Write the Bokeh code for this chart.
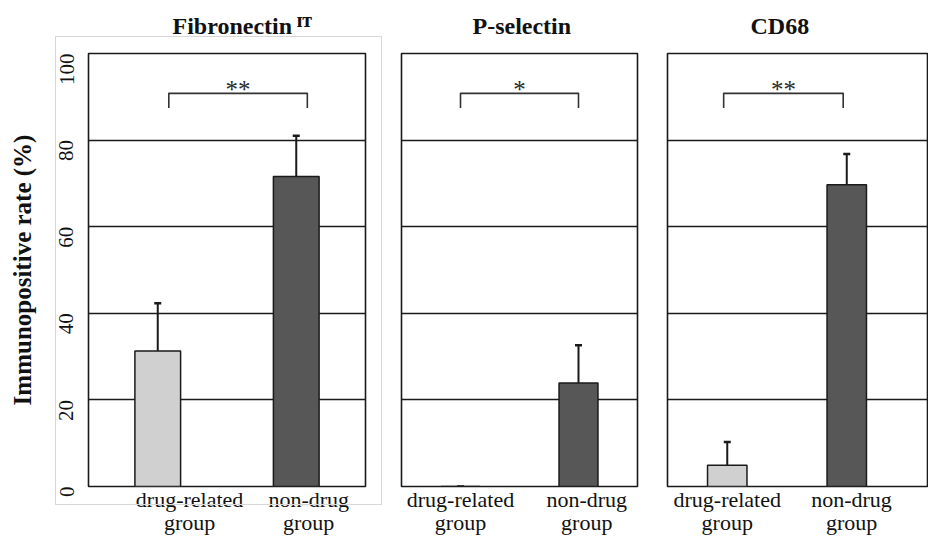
import math
from bokeh.plotting import figure
from bokeh.layouts import row
from bokeh.models import Range1d, FixedTicker, Label, ColumnDataSource
from bokeh.embed import file_html
from bokeh.resources import INLINE
from bokeh.core.properties import value

# ---------------- data ----------------
markers = ["Fibronectin", "P-selectin", "CD68"]
marker_sup = ["IT", "", ""]
groups = ["drug-related\ngroup", "non-drug\ngroup"]
fibronectin_rate = [31.3, 71.6]
fibronectin_err = [11.0, 9.4]
pselectin_rate = [0.0, 23.9]
pselectin_err = [0.0, 8.7]
cd68_rate = [4.9, 69.7]
cd68_err = [5.4, 7.1]
significance = ["**", "*", "**"]
bracket_low = 87.4
bracket_high = 90.8
y_ticks = [0, 20, 40, 60, 80, 100]
y_label = "Immunopositive rate (%)"

rates = [fibronectin_rate, pselectin_rate, cd68_rate]
errs = [fibronectin_err, pselectin_err, cd68_err]

# ---------------- style / layout ----------------
FONT = "Liberation Serif"
INK = "#1a1a1a"
bar_colors = ["#d0d0d0", "#575757"]
H = 537
widths = [383, 269, 276]
borders = [(88, 18), (18, 15), (15, 0)]
x_ends = [2.0, 2.0, 2.184]
title_offsets = [84, 71, 83]
label_shift = [[0.23, 0.09], [0.0, 0.07], [0.0, 0.04]]
bracket_shift = [0.08, 0.0, -0.03]

CAN_UNCLIP = "clip" in Label.properties()
SUP_MAP = {"I": "\u1d35", "T": "\u1d40"}

FRAME_CSS = (":host { position: relative; }"
             ":host::after { content: ''; position: absolute; left: 55px; top: 36px;"
             " width: 327px; height: 469px; border: 1px solid #d8d8d8;"
             " box-sizing: border-box; pointer-events: none; }")


def make_panel(i):
    bl, br = borders[i]
    first = i == 0
    p = figure(width=widths[i], height=H,
               x_range=Range1d(0, x_ends[i]), y_range=Range1d(0, 100),
               output_backend="svg", toolbar_location=None,
               min_border_left=bl, min_border_right=br,
               min_border_top=53, min_border_bottom=49,
               y_axis_location="left" if first else None)
    p.background_fill_color = "white"
    p.border_fill_color = "white"
    p.outline_line_color = INK
    p.outline_line_width = 1.6
    p.xgrid.visible = False
    p.ygrid.ticker = FixedTicker(ticks=y_ticks[1:-1])
    p.ygrid.grid_line_color = INK
    p.ygrid.grid_line_width = 1.5

    xs = [k + 0.5 for k in range(len(groups))]
    src = ColumnDataSource(dict(
        x=xs, top=rates[i],
        err_top=[r + e for r, e in zip(rates[i], errs[i])],
        color=bar_colors))
    p.segment(x0="x", y0="top", x1="x", y1="err_top", source=src,
              line_color=INK, line_width=2)
    p.vbar(x="x", top="top", bottom=0, width=0.33, source=src,
           fill_color="color", line_color=INK, line_width=1.5)
    p.scatter(x="x", y="err_top", marker="dash", size=7, source=src,
              line_color=INK, line_width=2.5)

    # significance bracket
    bx0 = xs[0] + bracket_shift[i]
    bx1 = xs[1] + bracket_shift[i]
    p.line(x=[bx0, bx0, bx1, bx1],
           y=[bracket_low, bracket_high, bracket_high, bracket_low],
           line_color="#333333", line_width=1.6, line_join="round")
    p.text(x=[(bx0 + bx1) / 2], y=[bracket_high], text=[significance[i]],
           text_align="center", text_baseline="alphabetic", y_offset=-4,
           text_font=value(FONT), text_font_size="25px", text_color="#2a2a2a")

    # title
    title_text = markers[i]
    if marker_sup[i] and not CAN_UNCLIP:
        title_text += "\u2009" + "".join(SUP_MAP.get(c, c) for c in marker_sup[i])
    p.title.text = title_text
    p.title.align = "left"
    p.title.offset = title_offsets[i]
    p.title.vertical_align = "top"
    p.title.text_font = FONT
    p.title.text_font_size = "24px"
    p.title.text_font_style = "bold"
    p.title.text_color = "#111111"
    p.title.standoff = 25

    # x axis
    ticks = [round(x + s, 3) for x, s in zip(xs, label_shift[i])]
    p.xaxis.ticker = FixedTicker(ticks=ticks)
    p.xaxis.major_label_overrides = {t: g for t, g in zip(ticks, groups)}
    p.xaxis.major_label_text_font = FONT
    p.xaxis.major_label_text_font_size = "22px"
    p.xaxis.major_label_text_color = "#111111"
    p.xaxis.major_label_text_line_height = 0.92
    p.xaxis.major_label_standoff = 0
    p.xaxis.major_tick_in = 0
    p.xaxis.major_tick_out = 0
    p.xaxis.axis_line_color = None
    p.xaxis.major_tick_line_color = None
    p.xaxis.minor_tick_line_color = None

    if first:
        p.yaxis.ticker = FixedTicker(ticks=y_ticks)
        p.yaxis.major_label_orientation = math.pi / 2
        p.yaxis.major_label_text_font = FONT
        p.yaxis.major_label_text_font_size = "21px"
        p.yaxis.major_label_text_color = "#111111"
        p.yaxis.major_label_standoff = 16
        p.yaxis.axis_line_color = None
        p.yaxis.major_tick_line_color = None
        p.yaxis.minor_tick_line_color = None
        p.yaxis.axis_label = y_label
        p.yaxis.axis_label_text_font = FONT
        p.yaxis.axis_label_text_font_size = "25px"
        p.yaxis.axis_label_text_font_style = "bold"
        p.yaxis.axis_label_text_color = "#111111"
        p.yaxis.axis_label_standoff = 14
        p.stylesheets = [FRAME_CSS]
    if marker_sup[i] and CAN_UNCLIP:
        p.add_layout(Label(x=302, y=17, x_units="canvas", y_units="canvas",
                           text=marker_sup[i], text_font=FONT, text_font_size="13px",
                           text_font_style="bold", text_color="#111111",
                           text_baseline="top", clip=False))
    return p


panels = [make_panel(i) for i in range(3)]
layout = row(*panels, spacing=0)
open("out.html", "w").write(file_html(layout, INLINE))
